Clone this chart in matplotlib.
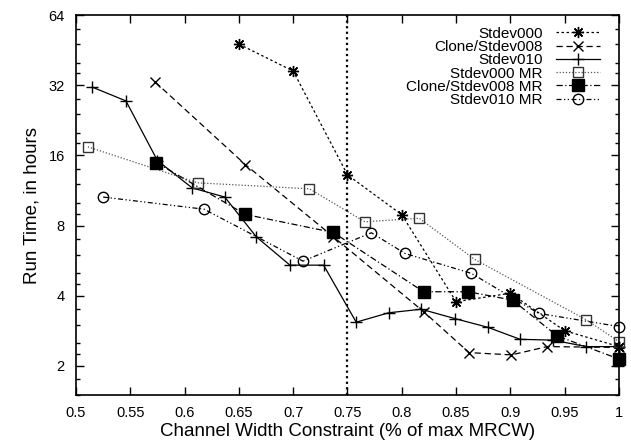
import numpy as np
import matplotlib.pyplot as plt
from matplotlib.ticker import FixedLocator, NullFormatter

plt.rcParams['font.family'] = ['Liberation Sans', 'DejaVu Sans']

# Stdev000
x_s000 = [0.65, 0.70, 0.75, 0.80, 0.85, 0.90, 0.95, 1.0]
y_s000 = [48, 36.8, 13.2, 8.9, 3.77, 4.1, 2.83, 2.42]

# Clone/Stdev008
x_c008 = [0.573, 0.656, 0.737, 0.820, 0.862, 0.901, 0.934, 1.0]
y_c008 = [33, 14.6, 7.16, 3.42, 2.28, 2.23, 2.42, 2.4]

# Stdev010
x_s010 = [0.515, 0.546, 0.575, 0.607, 0.637, 0.666, 0.697, 0.728, 0.758,
          0.788, 0.818, 0.849, 0.879, 0.909, 0.939, 0.970, 1.0]
y_s010 = [31.4, 27.4, 15.2, 11.6, 10.6, 7.16, 5.41, 5.41, 3.08,
          3.38, 3.5, 3.19, 2.93, 2.6, 2.58, 2.42, 2.42]

# Stdev000 MR
x_s000mr = [0.511, 0.612, 0.715, 0.766, 0.816, 0.867, 0.970, 1.0]
y_s000mr = [17.4, 12.2, 11.5, 8.3, 8.6, 5.73, 3.15, 2.54]

# Clone/Stdev008 MR
x_c008mr = [0.574, 0.656, 0.737, 0.820, 0.861, 0.902, 0.943, 1.0]
y_c008mr = [14.9, 8.93, 7.47, 4.16, 4.16, 3.83, 2.69, 2.14]
err_lo_c008mr = [0, 0, 0, 0, 0, 0, 0, 0.14]
err_hi_c008mr = [0, 0, 0, 0, 0, 0, 0, 0.25]

# Stdev010 MR
x_s010mr = [0.525, 0.618, 0.709, 0.772, 0.803, 0.864, 0.926, 1.0]
y_s010mr = [10.6, 9.4, 5.63, 7.45, 6.07, 4.99, 3.36, 2.95]

yticks = [2, 4, 8, 16, 32, 64]
xticks = [0.5, 0.55, 0.6, 0.65, 0.7, 0.75, 0.8, 0.85, 0.9, 0.95, 1.0]
xticklabels = ['0.5', '0.55', '0.6', '0.65', '0.7', '0.75', '0.8', '0.85', '0.9', '0.95', '1']

fig = plt.figure(figsize=(6.31, 4.47), dpi=100)
ax = fig.add_axes([0.1204, 0.1163, 0.8606, 0.8501])

lw = 0.9
h1, = ax.plot(x_s000, y_s000, color='black', lw=lw, ls=(0, (2, 2)), marker=(8, 2, 0),
              ms=8, mew=1.0, label='Stdev000', clip_on=False)
h2, = ax.plot(x_c008, y_c008, color='black', lw=lw, ls=(0, (5, 3)), marker='x',
              ms=7.5, mew=1.0, label='Clone/Stdev008', clip_on=False)
h3, = ax.plot(x_s010, y_s010, color='black', lw=lw, ls='-', marker='+',
              ms=8.5, mew=1.0, label='Stdev010', clip_on=False)
h4, = ax.plot(x_s000mr, y_s000mr, color='#555555', lw=lw, ls=(0, (1, 1.5)), marker='s',
              ms=7, mew=1.0, mfc='none', mec='#333333', label='Stdev000 MR', clip_on=False)
ax.errorbar(x_c008mr, y_c008mr, yerr=[err_lo_c008mr, err_hi_c008mr], fmt='none',
            ecolor='black', elinewidth=0.9, capsize=3.5, clip_on=False)
h5, = ax.plot(x_c008mr, y_c008mr, color='black', lw=lw, ls=(0, (5, 2, 1, 2)), marker='s',
              ms=8, label='Clone/Stdev008 MR', clip_on=False)
h6, = ax.plot(x_s010mr, y_s010mr, color='black', lw=lw, ls=(0, (4, 2, 1, 2, 1, 2)), marker='o',
              ms=7.5, mew=1.0, mfc='none', label='Stdev010 MR', clip_on=False)

ax.axvline(0.75, color='black', lw=1.6, ls=(0, (1, 1.5)))

ax.set_yscale('log', base=2)
ax.set_xlim(0.5, 1.0)
ax.set_ylim(1.5, 64)
ax.yaxis.set_major_locator(FixedLocator(yticks))
ax.set_yticklabels([str(v) for v in yticks])
minors = []
for k in range(0, 7):
    for f in [1.125, 1.25, 1.5, 1.75]:
        minors.append(2 ** k * f)
ax.yaxis.set_minor_locator(FixedLocator(minors))
ax.yaxis.set_minor_formatter(NullFormatter())
ax.set_xticks(xticks)
ax.set_xticklabels(xticklabels)
ax.xaxis.set_minor_locator(FixedLocator([]))

ax.tick_params(which='both', direction='in', top=True, right=True, labelsize=10.5, width=1.0)
ax.tick_params(which='major', length=6, pad=8)
ax.tick_params(which='minor', length=3)
for s in ax.spines.values():
    s.set_linewidth(1.2)

ax.set_xlabel('Channel Width Constraint (% of max MRCW)', fontsize=13.5, labelpad=2)
ax.set_ylabel('Run Time, in hours', fontsize=13.5, labelpad=6)

leg = ax.legend(handles=[h1, h2, h3, h4, h5, h6], loc='upper right', frameon=False,
                markerfirst=False, fontsize=11, handlelength=2.9, handletextpad=0.85,
                labelspacing=-0.05, borderaxespad=0.0, bbox_to_anchor=(0.976, 0.985))

fig.savefig('out.png', dpi=100)
